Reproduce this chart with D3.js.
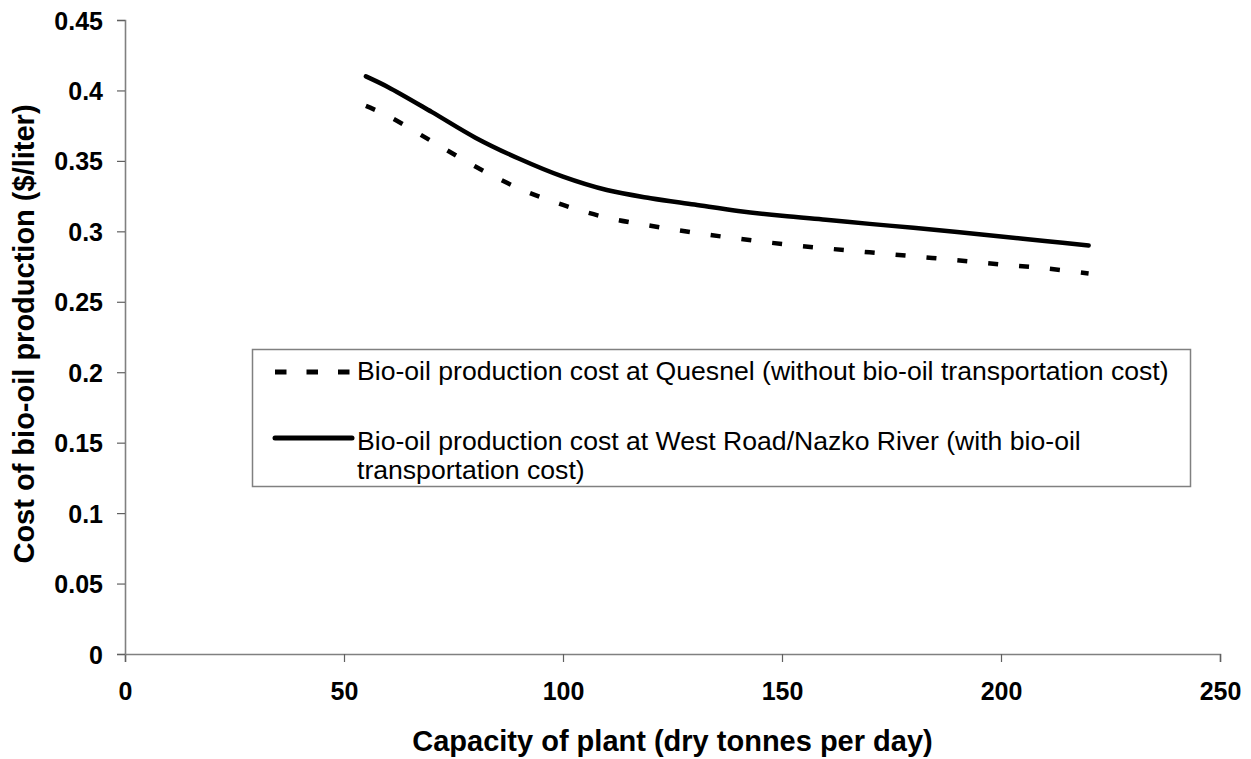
<!DOCTYPE html>
<html>
<head>
<meta charset="utf-8">
<script src="https://cdn.jsdelivr.net/npm/d3@7"></script>
<style>
  body { margin: 0; background: #fff; }
  text { font-family: "Liberation Sans", Arial, sans-serif; }
</style>
</head>
<body>
<svg id="chart" width="1251" height="759"></svg>
<script>
// Data
var capacity = [55, 60, 70, 80, 90, 100, 110, 120, 130, 140, 150, 160, 170, 180, 190, 200, 210, 220];
var costQuesnel = [0.389, 0.382, 0.364, 0.346, 0.3304, 0.3187, 0.3097, 0.304, 0.299, 0.2948, 0.291, 0.2879, 0.2851, 0.2823, 0.2795, 0.2765, 0.2738, 0.270];
var costWestRoad = [0.410, 0.4025, 0.3848, 0.3665, 0.3515, 0.3388, 0.3293, 0.3235, 0.319, 0.3145, 0.311, 0.3082, 0.3053, 0.3025, 0.2995, 0.2963, 0.2932, 0.290];
var xTicks = [0, 50, 100, 150, 200, 250];
var yTicks = [0, 0.05, 0.1, 0.15, 0.2, 0.25, 0.3, 0.35, 0.4, 0.45];
var legendLabels = [
    ["Bio-oil production cost at Quesnel (without bio-oil transportation cost)"],
    ["Bio-oil production cost at West Road/Nazko River (with bio-oil", "transportation cost)"]
];

var svg = d3.select("#chart"),
    margin = {left: 125, top: 20, right: 31, bottom: 105},
    width = +svg.attr("width") - margin.left - margin.right,
    height = +svg.attr("height") - margin.top - margin.bottom;

var x = d3.scaleLinear().domain([0, 250]).range([0, width]);
var y = d3.scaleLinear().domain([0, 0.45]).range([height, 0]);

var g = svg.append("g").attr("transform", "translate(" + margin.left + "," + margin.top + ")");

// Axes
var xAxis = g.append("g")
    .attr("transform", "translate(0," + height + ")")
    .call(d3.axisBottom(x).tickValues(xTicks).tickSize(8).tickPadding(20).tickFormat(d3.format("d")));
var yAxis = g.append("g")
    .call(d3.axisLeft(y).tickValues(yTicks).tickSize(8).tickPadding(14).tickFormat(function (d) { return d3.format("")(+d.toFixed(2)); }));

[xAxis, yAxis].forEach(function (a) {
    a.select(".domain").attr("stroke", "#808080").attr("stroke-width", 1.6);
    a.selectAll(".tick line").attr("stroke", "#606060").attr("stroke-width", 1.2);
    a.selectAll(".tick text")
        .attr("fill", "#000")
        .style("font-size", "25px")
        .style("font-weight", "bold");
});
yAxis.selectAll(".tick text").attr("dy", "0.36em");

// Axis titles
svg.append("text")
    .attr("x", margin.left + width / 2)
    .attr("y", 751)
    .attr("text-anchor", "middle")
    .style("font-size", "29px")
    .style("font-weight", "bold")
    .text("Capacity of plant (dry tonnes per day)");

svg.append("text")
    .attr("transform", "translate(34,334) rotate(-90)")
    .attr("text-anchor", "middle")
    .style("font-size", "29px")
    .style("font-weight", "bold")
    .text("Cost of bio-oil production ($/liter)");

// Lines
var line = d3.line()
    .x(function (d) { return x(d[0]); })
    .y(function (d) { return y(d[1]); })
    .curve(d3.curveCatmullRom);

g.append("path")
    .datum(d3.zip(capacity, costQuesnel))
    .attr("fill", "none")
    .attr("stroke", "#000")
    .attr("stroke-width", 4.5)
    .attr("stroke-dasharray", "10,21")
    .attr("d", line);

g.append("path")
    .datum(d3.zip(capacity, costWestRoad))
    .attr("fill", "none")
    .attr("stroke", "#000")
    .attr("stroke-width", 4.5)
    .attr("stroke-linecap", "round")
    .attr("d", line);

// Legend
var legend = svg.append("g");
legend.append("rect")
    .attr("x", 252.5).attr("y", 349.5)
    .attr("width", 938).attr("height", 137)
    .attr("fill", "#fff")
    .attr("stroke", "#808080")
    .attr("stroke-width", 1.5);

legend.append("line")
    .attr("x1", 275).attr("x2", 352).attr("y1", 372).attr("y2", 372)
    .attr("stroke", "#000").attr("stroke-width", 5)
    .attr("stroke-dasharray", "11.5,20");
legend.append("line")
    .attr("x1", 275).attr("x2", 352).attr("y1", 438).attr("y2", 438)
    .attr("stroke", "#000").attr("stroke-width", 5)
    .attr("stroke-linecap", "round");

var rowY = [380, 450];
legendLabels.forEach(function (lines, i) {
    lines.forEach(function (t, j) {
        legend.append("text")
            .attr("x", 357)
            .attr("y", rowY[i] + j * 29)
            .style("font-size", "26.6px")
            .text(t);
    });
});
</script>
</body>
</html>
